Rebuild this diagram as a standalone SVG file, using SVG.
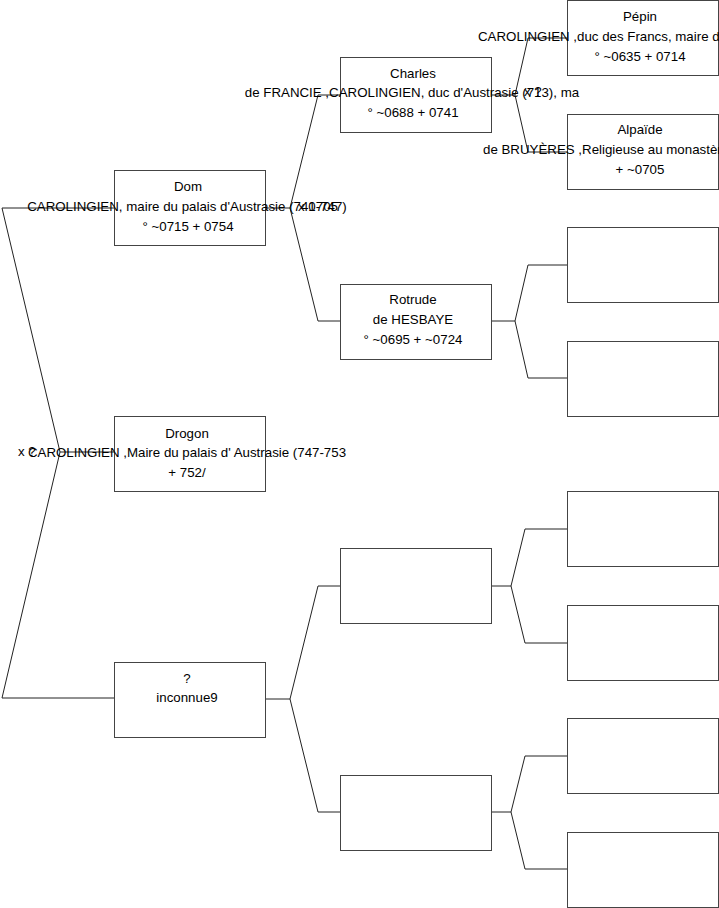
<svg xmlns="http://www.w3.org/2000/svg" width="719" height="908" viewBox="0 0 719 908">
<style>
.box{fill:#fff;stroke:#444;stroke-width:1}
.c{fill:none;stroke:#222;stroke-width:1}
text{font-family:"Liberation Sans",Arial,sans-serif;font-size:13.3px;fill:#000}
.m{text-anchor:middle}
</style>
<rect width="719" height="908" fill="#fff"/>
<g id="connectors">
<polyline class="c" points="114,208 2,208 60,452 2,698 114,698"/>
<polyline class="c" points="60,452 114,452"/>
<polyline class="c" points="340,95 318,95 290,208 318,321 340,321"/>
<polyline class="c" points="265,208 290,208"/>
<polyline class="c" points="567,38 528,38 515,95 528,152 567,152"/>
<polyline class="c" points="491,95 515,95"/>
<polyline class="c" points="567,265 528,265 515,321 528,378 567,378"/>
<polyline class="c" points="491,321 515,321"/>
<polyline class="c" points="340,586 318,586 290,699 318,812 340,812"/>
<polyline class="c" points="265,699 290,699"/>
<polyline class="c" points="567,529 525,529 511,586 525,643 567,643"/>
<polyline class="c" points="491,586 511,586"/>
<polyline class="c" points="567,756 525,756 511,812 525,869 567,869"/>
<polyline class="c" points="491,812 511,812"/>
</g>
<g id="node-dom">
<rect class="box" x="114.5" y="170.5" width="151" height="75"/>
<text class="m" x="188" y="191">Dom</text>
<text class="m" x="187" y="211">CAROLINGIEN, maire du palais d'Austrasie (741-747)</text>
<text class="m" x="188" y="231">° ~0715 + 0754</text>
</g>
<g id="node-drogon">
<rect class="box" x="114.5" y="416.5" width="151" height="75"/>
<text class="m" x="187" y="438">Drogon</text>
<text class="m" x="187" y="457">CAROLINGIEN ,Maire du palais d' Austrasie (747-753</text>
<text class="m" x="187" y="477">+ 752/</text>
</g>
<g id="node-inconnue">
<rect class="box" x="114.5" y="662.5" width="151" height="75"/>
<text class="m" x="187" y="683">?</text>
<text class="m" x="187" y="702">inconnue9</text>
</g>
<g id="node-charles">
<rect class="box" x="340.5" y="57.5" width="151" height="75"/>
<text class="m" x="413" y="78">Charles</text>
<text class="m" x="412" y="97">de FRANCIE ,CAROLINGIEN, duc d'Austrasie (713), ma</text>
<text class="m" x="413" y="117">° ~0688 + 0741</text>
</g>
<g id="node-rotrude">
<rect class="box" x="340.5" y="284.5" width="151" height="75"/>
<text class="m" x="413" y="304">Rotrude</text>
<text class="m" x="413" y="324">de HESBAYE</text>
<text class="m" x="413" y="344">° ~0695 + ~0724</text>
</g>
<g id="node-f3a"><rect class="box" x="340.5" y="548.5" width="151" height="75"/></g>
<g id="node-f3b"><rect class="box" x="340.5" y="775.5" width="151" height="75"/></g>
<g id="node-pepin">
<rect class="box" x="567.5" y="0.5" width="151" height="75"/>
<text class="m" x="640" y="21">Pépin</text>
<text x="478" y="41">CAROLINGIEN ,duc des Francs, maire du palais</text>
<text class="m" x="640" y="61">° ~0635 + 0714</text>
</g>
<g id="node-alpaide">
<rect class="box" x="567.5" y="114.5" width="151" height="75"/>
<text class="m" x="640" y="134">Alpaïde</text>
<text x="483" y="154">de BRUYÈRES ,Religieuse au monastère</text>
<text class="m" x="640" y="174">+ ~0705</text>
</g>
<g id="node-e1"><rect class="box" x="567.5" y="227.5" width="151" height="75"/></g>
<g id="node-e2"><rect class="box" x="567.5" y="341.5" width="151" height="75"/></g>
<g id="node-e3"><rect class="box" x="567.5" y="491.5" width="151" height="75"/></g>
<g id="node-e4"><rect class="box" x="567.5" y="605.5" width="151" height="75"/></g>
<g id="node-e5"><rect class="box" x="567.5" y="718.5" width="151" height="75"/></g>
<g id="node-e6"><rect class="box" x="567.5" y="832.5" width="151" height="75"/></g>
<g id="labels">
<text x="18" y="456">x ?</text>
<text x="298" y="211">x 0705</text>
<text x="524" y="96">x ?</text>
</g>
</svg>
